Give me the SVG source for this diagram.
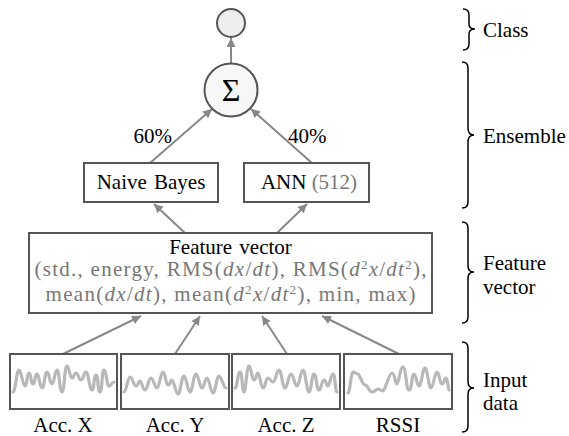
<svg xmlns="http://www.w3.org/2000/svg" width="569" height="436" viewBox="0 0 569 436">
<style>
text{font-family:"Liberation Serif","Times New Roman",serif;font-size:21px;fill:#000}
.g{fill:#777}
.box{fill:#fff;stroke:#555;stroke-width:2}
.conn{stroke:#888;stroke-width:2;fill:none;marker-end:url(#ah)}
.wave{fill:none;stroke:#b8b8b8;stroke-width:3.2;stroke-linejoin:round;stroke-linecap:round}
.brace{fill:none;stroke:#000;stroke-width:1.5}
.m{font-style:italic}
.sup{font-size:13px}
</style>
<defs>
<marker id="ah" markerUnits="userSpaceOnUse" markerWidth="12" markerHeight="10" refX="9" refY="4.5" orient="auto">
<path d="M0,0 L9,4.5 L0,9 Z" fill="#888"/>
</marker>
</defs>
<g id="connectors">
<line class="conn" x1="231" y1="63" x2="231" y2="38"/>
<line class="conn" x1="150" y1="163" x2="212" y2="109"/>
<line class="conn" x1="312" y1="163" x2="251" y2="109"/>
<line class="conn" x1="185" y1="233" x2="154" y2="204"/>
<line class="conn" x1="277" y1="233" x2="307" y2="204"/>
<line class="conn" x1="63" y1="354" x2="141" y2="316"/>
<line class="conn" x1="175" y1="354" x2="200" y2="316"/>
<line class="conn" x1="287" y1="354" x2="262" y2="316"/>
<line class="conn" x1="399" y1="354" x2="322" y2="316"/>
</g>
<g id="label-60"><text x="172" y="143" text-anchor="end">60%</text></g>
<g id="label-40"><text x="288" y="143">40%</text></g>
<g id="class-node">
<circle cx="231" cy="23" r="14" fill="#eee" stroke="#555" stroke-width="2"/>
</g>
<g id="sum-node">
<circle cx="231" cy="90" r="26.5" fill="#f7f7f7" stroke="#555" stroke-width="2"/>
<text x="231" y="101" text-anchor="middle" style="font-size:32px">Σ</text>
</g>
<g id="naive-bayes">
<rect class="box" x="84" y="163" width="134" height="39"/>
<text x="151" y="189" text-anchor="middle" word-spacing="2">Naive Bayes</text>
</g>
<g id="ann">
<rect class="box" x="244" y="163" width="125" height="39"/>
<text x="309" y="189" text-anchor="middle">ANN <tspan class="g">(512)</tspan></text>
</g>
<g id="feature-vector">
<rect class="box" x="29" y="233" width="403" height="80"/>
<text x="230.5" y="254" text-anchor="middle" word-spacing="2">Feature vector</text>
<text x="230.5" y="276" text-anchor="middle" class="g" textLength="392" lengthAdjust="spacing">(std., energy, RMS(<tspan class="m">dx</tspan>/<tspan class="m">dt</tspan>), RMS(<tspan class="m">d</tspan><tspan dy="-7" class="sup">2</tspan><tspan dy="7" class="m">x</tspan>/<tspan class="m">dt</tspan><tspan dy="-7" class="sup">2</tspan><tspan dy="7">),</tspan></text>
<text x="230.5" y="301" text-anchor="middle" class="g" textLength="370" lengthAdjust="spacing">mean(<tspan class="m">dx</tspan>/<tspan class="m">dt</tspan>), mean(<tspan class="m">d</tspan><tspan dy="-7" class="sup">2</tspan><tspan dy="7" class="m">x</tspan>/<tspan class="m">dt</tspan><tspan dy="-7" class="sup">2</tspan><tspan dy="7">), min, max)</tspan></text>
</g>
<g id="acc-x">
<rect class="box" x="10" y="354" width="107" height="55"/>
<path class="wave" d="M13,392 C15.5,392 16.5,370 19,370 S22.5,386 25,386 S26.5,373 29,373 S30.5,384 33,384 S34.5,374 37,374 S39.5,388 42,388 S44.5,372 47,372 S49.5,384 52,384 S54.5,370 57,370 S59.5,392 62,392 S64.5,366 67,366 S69.5,378 72,378 S73.5,373 76,373 S78.5,380 81,380 S83.5,372 86,372 S89.5,390 92,390 S93.5,375 96,375 S97.5,392 100,392 S101.5,370 104,370 S106.5,386 109,386 S111.5,382 114,382"/>
<text x="63" y="432" text-anchor="middle">Acc. X</text>
</g>
<g id="acc-y">
<rect class="box" x="121" y="354" width="108" height="55"/>
<path class="wave" d="M124,392 C126.5,392 127.5,377 130,377 S133.5,386 136,386 S138,381 140,381 S142.5,390 145,390 S148.5,378 151,378 S154.5,388 157,388 S160.5,372 163,372 S165.5,385 168,385 S170,380 172,380 S175.5,394 178,394 S181.5,376 184,376 S187.5,392 190,392 S193.5,374 196,374 S199.5,388 202,388 S204.5,378 207,378 S210.5,393 213,393 S216.5,376 219,376 S223.5,388 226,388"/>
<text x="175" y="432" text-anchor="middle">Acc. Y</text>
</g>
<g id="acc-z">
<rect class="box" x="232" y="354" width="108" height="55"/>
<path class="wave" d="M235,388 C237.5,388 237.5,372 240,372 S242,392 244,392 S246.5,366 249,366 S251.5,380 254,380 S256,373 258,373 S260.5,388 263,388 S265.5,378 268,378 S270.5,382 273,382 S276.5,370 279,370 S282.5,388 285,388 S288.5,374 291,374 S294.5,386 297,386 S300.5,370 303,370 S306.5,392 309,392 S311.5,374 314,374 S316.5,390 319,390 S321.5,380 324,380 S326,386 328,386 S330.5,374 333,374 S335,392 337,392"/>
<text x="286" y="432" text-anchor="middle">Acc. Z</text>
</g>
<g id="rssi">
<rect class="box" x="344" y="354" width="108" height="55"/>
<path class="wave" d="M348,393 C350,393 351,372 353,372 S356,374 358,374 S362,385 365,385 S369,392 372,392 S376,389 378,389 S381,391 383,391 S389,373 392,373 S395,384 397,384 S400,367 403,367 S406,390 409,390 S411.5,374 414,374 S416.5,386 419,386 S422.5,368 425,368 S428.5,388 431,388 S434.5,372 437,372 S439.5,384 442,384 S444,378 446,378 S448,390 449,390"/>
<text x="398" y="432" text-anchor="middle">RSSI</text>
</g>
<g id="brace-class">
<path class="brace" d="M463,9 C467,9 469,11 469,15 L469,24 C469,27 471,29 475,29 C471,29 469,31 469,34 L469,44 C469,48 467,50 463,50"/>
<text x="483" y="37">Class</text>
</g>
<g id="brace-ensemble">
<path class="brace" d="M462,62 C466,62 468,64 468,68 L468,128 C468,132 470,135 474,135 C470,135 468,138 468,142 L468,202 C468,206 466,208 462,208"/>
<text x="483" y="143">Ensemble</text>
</g>
<g id="brace-feature">
<path class="brace" d="M462,222 C466,222 468,224 468,228 L468,266 C468,270 470,272 474,272 C470,272 468,274 468,278 L468,317 C468,321 466,323 462,323"/>
<text x="483" y="270">Feature</text>
<text x="483" y="294">vector</text>
</g>
<g id="brace-input">
<path class="brace" d="M462,342 C466,342 468,344 468,348 L468,382 C468,386 470,388 474,388 C470,388 468,390 468,394 L468,426 C468,430 466,432 462,432"/>
<text x="483" y="387">Input</text>
<text x="483" y="410">data</text>
</g>
</svg>
